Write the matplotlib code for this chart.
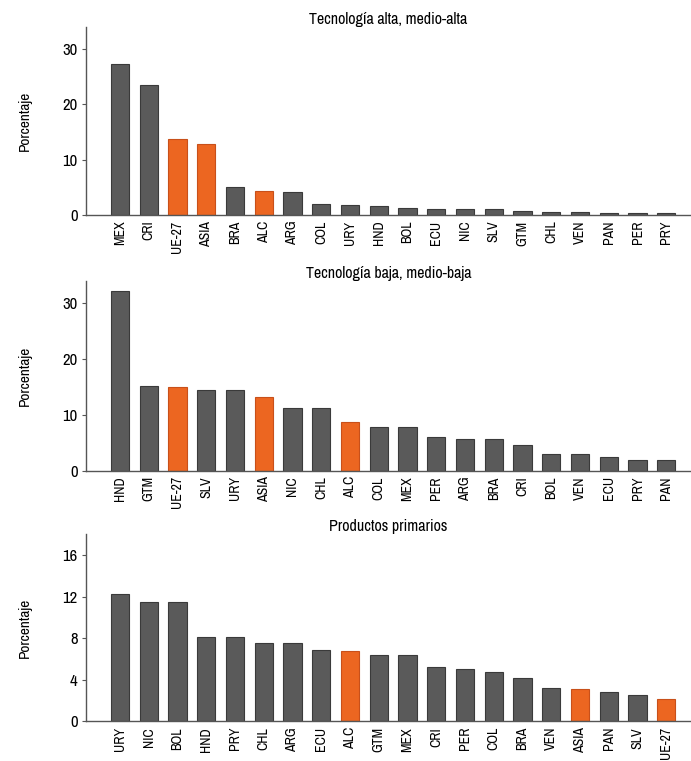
import numpy as np
import matplotlib
matplotlib.use("Agg")
import matplotlib.pyplot as plt

plt.rcParams['font.family'] = ['Archivo Narrow', 'DejaVu Sans']

# --- data ---
alta_labels = ['MEX', 'CRI', 'UE-27', 'ASIA', 'BRA', 'ALC', 'ARG', 'COL', 'URY', 'HND',
               'BOL', 'ECU', 'NIC', 'SLV', 'GTM', 'CHL', 'VEN', 'PAN', 'PER', 'PRY']
alta_values = [27.4, 23.5, 13.7, 12.9, 5.1, 4.4, 4.1, 2.0, 1.8, 1.55,
               1.3, 1.0, 1.0, 1.0, 0.78, 0.6, 0.6, 0.35, 0.35, 0.35]

baja_labels = ['HND', 'GTM', 'UE-27', 'SLV', 'URY', 'ASIA', 'NIC', 'CHL', 'ALC', 'COL',
               'MEX', 'PER', 'ARG', 'BRA', 'CRI', 'BOL', 'VEN', 'ECU', 'PRY', 'PAN']
baja_values = [32.3, 15.2, 15.0, 14.5, 14.5, 13.3, 11.2, 11.2, 8.7, 7.9,
               7.9, 6.1, 5.6, 5.6, 4.6, 3.05, 3.05, 2.5, 2.0, 2.0]

prim_labels = ['URY', 'NIC', 'BOL', 'HND', 'PRY', 'CHL', 'ARG', 'ECU', 'ALC', 'GTM',
               'MEX', 'CRI', 'PER', 'COL', 'BRA', 'VEN', 'ASIA', 'PAN', 'SLV', 'UE-27']
prim_values = [12.3, 11.45, 11.45, 8.1, 8.1, 7.55, 7.55, 6.88, 6.78, 6.37,
               6.37, 5.25, 5.0, 4.75, 4.17, 3.25, 3.12, 2.87, 2.58, 2.17]

highlight = ['UE-27', 'ASIA', 'ALC']

panels = [
    ('Tecnología alta, medio-alta', alta_labels, alta_values, [0, 10, 20, 30], 34),
    ('Tecnología baja, medio-baja', baja_labels, baja_values, [0, 10, 20, 30], 34),
    ('Productos primarios', prim_labels, prim_values, [0, 4, 8, 12, 16], 18),
]

# axes boxes in figure fraction: left, bottom, width, height
boxes = [
    (0.1245, 0.7175, 0.8755, 0.247),
    (0.1245, 0.3815, 0.8755, 0.249),
    (0.1245, 0.0520, 0.8755, 0.246),
]

gray = '#5a5a5a'
orange = '#EC6621'

fig = plt.figure(figsize=(6.91, 7.61), dpi=100)

for (title, labels, values, yticks, ymax), box in zip(panels, boxes):
    ax = fig.add_axes(box)
    x = np.arange(len(labels))
    colors = [orange if lab in highlight else gray for lab in labels]
    edges = ['#C8501A' if lab in highlight else '#3a3a3a' for lab in labels]
    ax.bar(x, values, width=0.64, color=colors, edgecolor=edges, linewidth=0.8, zorder=2)
    ax.set_xlim(-1.18, 19.86)
    ax.set_ylim(0, ymax)
    ax.set_yticks(yticks)
    ax.set_xticks(x)
    ax.set_xticklabels(labels, rotation=90, fontsize=10)
    ax.tick_params(axis='x', length=0, pad=4)
    ax.tick_params(axis='y', length=3, width=0.8, color='#555555', labelsize=12, pad=3)
    for side in ['top', 'right']:
        ax.spines[side].set_visible(False)
    ax.spines['left'].set_color('#555555')
    ax.spines['bottom'].set_color('#555555')
    ax.spines['left'].set_linewidth(1.0)
    ax.spines['bottom'].set_linewidth(1.0)
    ax.set_ylabel('Porcentaje', fontsize=11, labelpad=22)
    ax.set_title(title, fontsize=11.5, pad=2)

fig.savefig('out.png', dpi=100)
